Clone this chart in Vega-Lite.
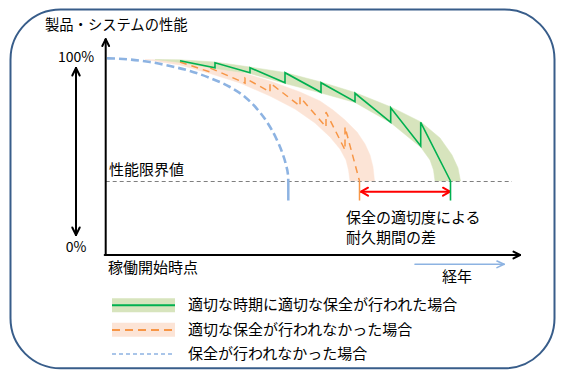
{
  "$schema": "https://vega.github.io/schema/vega-lite/v6.json",
  "width": 565,
  "height": 383,
  "autosize": {"type": "fit", "contains": "padding"},
  "padding": 0,
  "background": "white",
  "config": {"view": {"stroke": null}},
  "datasets": {
    "border": [{"x": -9.55, "y": 124.62, "x2": 44.85, "y2": -57.51}],
    "bands": [
      {"b": "orange", "i": 0, "x": 3.9, "y": 99.24},
      {"b": "orange", "i": 1, "x": 7.4, "y": 98.73},
      {"b": "orange", "i": 2, "x": 10.4, "y": 96.45},
      {"b": "orange", "i": 3, "x": 13.4, "y": 92.89},
      {"b": "orange", "i": 4, "x": 16.4, "y": 88.32},
      {"b": "orange", "i": 5, "x": 19.4, "y": 82.74},
      {"b": "orange", "i": 6, "x": 21.4, "y": 78.17},
      {"b": "orange", "i": 7, "x": 22.7, "y": 73.6},
      {"b": "orange", "i": 8, "x": 23.9, "y": 68.53},
      {"b": "orange", "i": 9, "x": 25.1, "y": 62.44},
      {"b": "orange", "i": 10, "x": 25.9, "y": 56.35},
      {"b": "orange", "i": 11, "x": 26.4, "y": 50.76},
      {"b": "orange", "i": 12, "x": 26.7, "y": 44.67},
      {"b": "orange", "i": 13, "x": 26.85, "y": 37.56},
      {"b": "orange", "i": 14, "x": 24.4, "y": 37.56},
      {"b": "orange", "i": 15, "x": 24.25, "y": 43.15},
      {"b": "orange", "i": 16, "x": 24.0, "y": 48.22},
      {"b": "orange", "i": 17, "x": 23.4, "y": 53.81},
      {"b": "orange", "i": 18, "x": 22.4, "y": 59.9},
      {"b": "orange", "i": 19, "x": 20.9, "y": 67.01},
      {"b": "orange", "i": 20, "x": 18.9, "y": 74.11},
      {"b": "orange", "i": 21, "x": 16.4, "y": 80.71},
      {"b": "orange", "i": 22, "x": 13.4, "y": 87.31},
      {"b": "orange", "i": 23, "x": 10.4, "y": 92.13},
      {"b": "orange", "i": 24, "x": 7.4, "y": 96.45},
      {"b": "green", "i": 0, "x": 4.9, "y": 99.24},
      {"b": "green", "i": 1, "x": 7.4, "y": 99.09},
      {"b": "green", "i": 2, "x": 10.9, "y": 97.97},
      {"b": "green", "i": 3, "x": 14.4, "y": 95.43},
      {"b": "green", "i": 4, "x": 17.9, "y": 92.64},
      {"b": "green", "i": 5, "x": 21.5, "y": 87.82},
      {"b": "green", "i": 6, "x": 24.9, "y": 82.49},
      {"b": "green", "i": 7, "x": 28.5, "y": 75.13},
      {"b": "green", "i": 8, "x": 31.5, "y": 67.51},
      {"b": "green", "i": 9, "x": 33.4, "y": 59.39},
      {"b": "green", "i": 10, "x": 34.6, "y": 50.76},
      {"b": "green", "i": 11, "x": 35.2, "y": 44.16},
      {"b": "green", "i": 12, "x": 35.45, "y": 37.56},
      {"b": "green", "i": 13, "x": 32.9, "y": 37.56},
      {"b": "green", "i": 14, "x": 32.75, "y": 43.15},
      {"b": "green", "i": 15, "x": 32.4, "y": 48.22},
      {"b": "green", "i": 16, "x": 31.5, "y": 54.57},
      {"b": "green", "i": 17, "x": 28.5, "y": 67.01},
      {"b": "green", "i": 18, "x": 24.9, "y": 77.41},
      {"b": "green", "i": 19, "x": 21.5, "y": 82.23},
      {"b": "green", "i": 20, "x": 17.9, "y": 87.06},
      {"b": "green", "i": 21, "x": 14.4, "y": 92.13},
      {"b": "green", "i": 22, "x": 10.9, "y": 94.67},
      {"b": "green", "i": 23, "x": 7.4, "y": 97.72}
    ],
    "curves": [
      {"s": "blue", "i": 0, "x": 0.1, "y": 99.85},
      {"s": "blue", "i": 1, "x": 2.4, "y": 99.24},
      {"s": "blue", "i": 2, "x": 4.4, "y": 97.97},
      {"s": "blue", "i": 3, "x": 6.4, "y": 95.94},
      {"s": "blue", "i": 4, "x": 8.4, "y": 93.4},
      {"s": "blue", "i": 5, "x": 10.4, "y": 89.85},
      {"s": "blue", "i": 6, "x": 12.4, "y": 85.28},
      {"s": "blue", "i": 7, "x": 13.9, "y": 80.2},
      {"s": "blue", "i": 8, "x": 15.2, "y": 73.6},
      {"s": "blue", "i": 9, "x": 16.1, "y": 67.51},
      {"s": "blue", "i": 10, "x": 17.0, "y": 59.39},
      {"s": "blue", "i": 11, "x": 17.6, "y": 52.28},
      {"s": "blue", "i": 12, "x": 18.0, "y": 45.69},
      {"s": "blue", "i": 13, "x": 18.2, "y": 40.61},
      {"s": "blue", "i": 14, "x": 18.23, "y": 37.56},
      {"s": "orange", "i": 0, "x": 7.4, "y": 97.97},
      {"s": "orange", "i": 1, "x": 10.4, "y": 92.89},
      {"s": "orange", "i": 2, "x": 10.4, "y": 94.92},
      {"s": "orange", "i": 3, "x": 13.9, "y": 87.31},
      {"s": "orange", "i": 4, "x": 13.9, "y": 89.85},
      {"s": "orange", "i": 5, "x": 16.4, "y": 82.74},
      {"s": "orange", "i": 6, "x": 16.4, "y": 87.31},
      {"s": "orange", "i": 7, "x": 19.4, "y": 75.63},
      {"s": "orange", "i": 8, "x": 19.4, "y": 80.2},
      {"s": "orange", "i": 9, "x": 22.0, "y": 64.97},
      {"s": "orange", "i": 10, "x": 22.0, "y": 72.59},
      {"s": "orange", "i": 11, "x": 23.9, "y": 53.3},
      {"s": "orange", "i": 12, "x": 23.9, "y": 64.97},
      {"s": "orange", "i": 13, "x": 25.35, "y": 37.56},
      {"s": "green", "i": 0, "x": 7.4, "y": 98.63},
      {"s": "green", "i": 1, "x": 10.9, "y": 95.08},
      {"s": "green", "i": 2, "x": 10.9, "y": 97.61},
      {"s": "green", "i": 3, "x": 14.4, "y": 92.54},
      {"s": "green", "i": 4, "x": 14.4, "y": 95.08},
      {"s": "green", "i": 5, "x": 17.9, "y": 87.46},
      {"s": "green", "i": 6, "x": 17.9, "y": 92.54},
      {"s": "green", "i": 7, "x": 21.5, "y": 82.59},
      {"s": "green", "i": 8, "x": 21.5, "y": 87.46},
      {"s": "green", "i": 9, "x": 24.9, "y": 77.82},
      {"s": "green", "i": 10, "x": 24.9, "y": 82.08},
      {"s": "green", "i": 11, "x": 28.47, "y": 67.36},
      {"s": "green", "i": 12, "x": 28.47, "y": 74.77},
      {"s": "green", "i": 13, "x": 31.47, "y": 55.33},
      {"s": "green", "i": 14, "x": 31.47, "y": 67.36},
      {"s": "green", "i": 15, "x": 34.45, "y": 37.56}
    ],
    "segments": [
      {"k": "axis", "x": -0.03, "y": 0, "x2": -0.03, "y2": 109.49},
      {"k": "axis", "x": -0.03, "y": 109.49, "x2": -0.37, "y2": 106.09},
      {"k": "axis", "x": -0.03, "y": 109.49, "x2": 0.31, "y2": 106.09},
      {"k": "axis", "x": -0.13, "y": 0, "x2": 41.4, "y2": 0},
      {"k": "axis", "x": 41.4, "y": 0, "x2": 40.75, "y2": 1.73},
      {"k": "axis", "x": 41.4, "y": 0, "x2": 40.75, "y2": -1.73},
      {"k": "axis", "x": -3.0, "y": 94.92, "x2": -3.0, "y2": 10.15},
      {"k": "axis", "x": -3.0, "y": 94.92, "x2": -3.37, "y2": 91.12},
      {"k": "axis", "x": -3.0, "y": 94.92, "x2": -2.63, "y2": 91.12},
      {"k": "axis", "x": -3.0, "y": 10.15, "x2": -3.37, "y2": 13.96},
      {"k": "axis", "x": -3.0, "y": 10.15, "x2": -2.63, "y2": 13.96},
      {"k": "limit", "x": -0.03, "y": 37.31, "x2": 40.6, "y2": 37.31},
      {"k": "red", "x": 25.5, "y": 32.13, "x2": 34.4, "y2": 32.13},
      {"k": "red", "x": 25.5, "y": 32.13, "x2": 26.2, "y2": 34.16},
      {"k": "red", "x": 25.5, "y": 32.13, "x2": 26.2, "y2": 30.1},
      {"k": "red", "x": 34.4, "y": 32.13, "x2": 33.7, "y2": 34.16},
      {"k": "red", "x": 34.4, "y": 32.13, "x2": 33.7, "y2": 30.1},
      {"k": "blueTick", "x": 18.23, "y": 37.56, "x2": 18.23, "y2": 27.66},
      {"k": "orangeTick", "x": 25.35, "y": 37.56, "x2": 25.35, "y2": 27.66},
      {"k": "greenTick", "x": 34.45, "y": 37.56, "x2": 34.45, "y2": 27.66},
      {"k": "blueArrow", "x": 30.9, "y": -4.72, "x2": 39.8, "y2": -4.72},
      {"k": "blueArrow", "x": 39.8, "y": -4.72, "x2": 39.1, "y2": -3.05},
      {"k": "blueArrow", "x": 39.8, "y": -4.72, "x2": 39.1, "y2": -6.4},
      {"k": "legGreen", "x": 0.6, "y": -25.53, "x2": 6.9, "y2": -25.53},
      {"k": "legOrange", "x": 0.6, "y": -38.07, "x2": 6.9, "y2": -38.07},
      {"k": "legBlue", "x": 0.6, "y": -50.25, "x2": 6.9, "y2": -50.25}
    ],
    "swatches": [
      {"k": "green", "x": 0.6, "y": -21.98, "x2": 6.9, "y2": -29.09},
      {"k": "orange", "x": 0.6, "y": -34.37, "x2": 6.9, "y2": -41.47}
    ],
    "labels": [
      {"g": "title", "t": "製品・システムの性能", "x": -6.1, "y": 116.24},
      {"g": "pct", "t": "100%", "x": -3.0, "y": 99.85},
      {"g": "pct", "t": "0%", "x": -3.0, "y": 3.4},
      {"g": "lab", "t": "性能限界値", "x": 0.3, "y": 43.15},
      {"g": "lab", "t": "稼働開始時点", "x": 0.2, "y": -6.6},
      {"g": "lab", "t": "経年", "x": 33.6, "y": -11.17},
      {"g": "lab", "t": "保全の適切度による", "x": 24.0, "y": 18.53},
      {"g": "lab", "t": "耐久期間の差", "x": 24.0, "y": 8.63},
      {"g": "lab", "t": "適切な時期に適切な保全が行われた場合", "x": 8.2, "y": -25.53},
      {"g": "lab", "t": "適切な保全が行われなかった場合", "x": 8.2, "y": -38.07},
      {"g": "lab", "t": "保全が行われなかった場合", "x": 8.2, "y": -50.0}
    ]
  },
  "encoding": {
    "x": {"field": "x", "type": "quantitative", "scale": {"domain": [-10.6, 45.9], "nice": false, "zero": false}, "axis": null},
    "y": {"field": "y", "type": "quantitative", "scale": {"domain": [-64.97, 129.44], "nice": false, "zero": false}, "axis": null}
  },
  "layer": [
    {
      "data": {"name": "border"},
      "mark": {"type": "rect", "fill": "transparent", "stroke": "#385d8a", "strokeWidth": 2, "cornerRadius": 50},
      "encoding": {"x2": {"field": "x2"}, "y2": {"field": "y2"}}
    },
    {
      "data": {"name": "bands"},
      "transform": [{"filter": "datum.b === 'orange'"}],
      "mark": {"type": "line", "interpolate": "linear-closed", "fill": "#fce4d6", "stroke": "#fce4d6", "strokeWidth": 0.5},
      "encoding": {"order": {"field": "i", "type": "quantitative"}}
    },
    {
      "data": {"name": "bands"},
      "transform": [{"filter": "datum.b === 'green'"}],
      "mark": {"type": "line", "interpolate": "linear-closed", "fill": "#d7e4bd", "stroke": "#d7e4bd", "strokeWidth": 0.5},
      "encoding": {"order": {"field": "i", "type": "quantitative"}}
    },
    {
      "data": {"name": "segments"},
      "transform": [{"filter": "datum.k === 'limit'"}],
      "mark": {"type": "rule", "color": "#7f7f7f", "strokeWidth": 1, "strokeDash": [4, 3]},
      "encoding": {"x2": {"field": "x2"}, "y2": {"field": "y2"}}
    },
    {
      "data": {"name": "curves"},
      "transform": [{"filter": "datum.s === 'blue'"}],
      "mark": {"type": "line", "interpolate": "monotone", "color": "#8db3e2", "strokeWidth": 2.6, "strokeDash": [8, 4]},
      "encoding": {"order": {"field": "i", "type": "quantitative"}}
    },
    {
      "data": {"name": "curves"},
      "transform": [{"filter": "datum.s === 'orange'"}],
      "mark": {"type": "line", "color": "#f79646", "strokeWidth": 1.5, "strokeDash": [7, 5]},
      "encoding": {"order": {"field": "i", "type": "quantitative"}}
    },
    {
      "data": {"name": "curves"},
      "transform": [{"filter": "datum.s === 'green'"}],
      "mark": {"type": "line", "color": "#00b050", "strokeWidth": 1.6},
      "encoding": {"order": {"field": "i", "type": "quantitative"}}
    },
    {
      "data": {"name": "segments"},
      "transform": [{"filter": "datum.k === 'axis'"}],
      "mark": {"type": "rule", "color": "#000000", "strokeWidth": 2, "strokeCap": "round"},
      "encoding": {"x2": {"field": "x2"}, "y2": {"field": "y2"}}
    },
    {
      "data": {"name": "segments"},
      "transform": [{"filter": "datum.k === 'red'"}],
      "mark": {"type": "rule", "color": "#ff0000", "strokeWidth": 2, "strokeCap": "round"},
      "encoding": {"x2": {"field": "x2"}, "y2": {"field": "y2"}}
    },
    {
      "data": {"name": "segments"},
      "transform": [{"filter": "datum.k === 'blueTick'"}],
      "mark": {"type": "rule", "color": "#8db3e2", "strokeWidth": 2.5},
      "encoding": {"x2": {"field": "x2"}, "y2": {"field": "y2"}}
    },
    {
      "data": {"name": "segments"},
      "transform": [{"filter": "datum.k === 'orangeTick'"}],
      "mark": {"type": "rule", "color": "#f79646", "strokeWidth": 1.5},
      "encoding": {"x2": {"field": "x2"}, "y2": {"field": "y2"}}
    },
    {
      "data": {"name": "segments"},
      "transform": [{"filter": "datum.k === 'greenTick'"}],
      "mark": {"type": "rule", "color": "#00b050", "strokeWidth": 1.6},
      "encoding": {"x2": {"field": "x2"}, "y2": {"field": "y2"}}
    },
    {
      "data": {"name": "segments"},
      "transform": [{"filter": "datum.k === 'blueArrow'"}],
      "mark": {"type": "rule", "color": "#8db3e2", "strokeWidth": 1.6, "strokeCap": "round"},
      "encoding": {"x2": {"field": "x2"}, "y2": {"field": "y2"}}
    },
    {
      "data": {"name": "swatches"},
      "transform": [{"filter": "datum.k === 'green'"}],
      "mark": {"type": "rect", "fill": "#d7e4bd"},
      "encoding": {"x2": {"field": "x2"}, "y2": {"field": "y2"}}
    },
    {
      "data": {"name": "swatches"},
      "transform": [{"filter": "datum.k === 'orange'"}],
      "mark": {"type": "rect", "fill": "#fce4d6"},
      "encoding": {"x2": {"field": "x2"}, "y2": {"field": "y2"}}
    },
    {
      "data": {"name": "segments"},
      "transform": [{"filter": "datum.k === 'legGreen'"}],
      "mark": {"type": "rule", "color": "#00b050", "strokeWidth": 2},
      "encoding": {"x2": {"field": "x2"}, "y2": {"field": "y2"}}
    },
    {
      "data": {"name": "segments"},
      "transform": [{"filter": "datum.k === 'legOrange'"}],
      "mark": {"type": "rule", "color": "#f79646", "strokeWidth": 2, "strokeDash": [8, 5]},
      "encoding": {"x2": {"field": "x2"}, "y2": {"field": "y2"}}
    },
    {
      "data": {"name": "segments"},
      "transform": [{"filter": "datum.k === 'legBlue'"}],
      "mark": {"type": "rule", "color": "#8db3e2", "strokeWidth": 1.5, "strokeDash": [4, 3]},
      "encoding": {"x2": {"field": "x2"}, "y2": {"field": "y2"}}
    },
    {
      "data": {"name": "labels"},
      "transform": [{"filter": "datum.g === 'title'"}],
      "mark": {"type": "text", "align": "left", "baseline": "middle", "font": "Noto Sans CJK JP", "fontSize": 14.3, "color": "#000000"},
      "encoding": {"text": {"field": "t"}}
    },
    {
      "data": {"name": "labels"},
      "transform": [{"filter": "datum.g === 'pct'"}],
      "mark": {"type": "text", "align": "center", "baseline": "middle", "font": "Noto Sans CJK JP", "fontSize": 14, "color": "#000000"},
      "encoding": {"text": {"field": "t"}}
    },
    {
      "data": {"name": "labels"},
      "transform": [{"filter": "datum.g === 'lab'"}],
      "mark": {"type": "text", "align": "left", "baseline": "middle", "font": "Noto Sans CJK JP", "fontSize": 15, "color": "#000000"},
      "encoding": {"text": {"field": "t"}}
    }
  ]
}
